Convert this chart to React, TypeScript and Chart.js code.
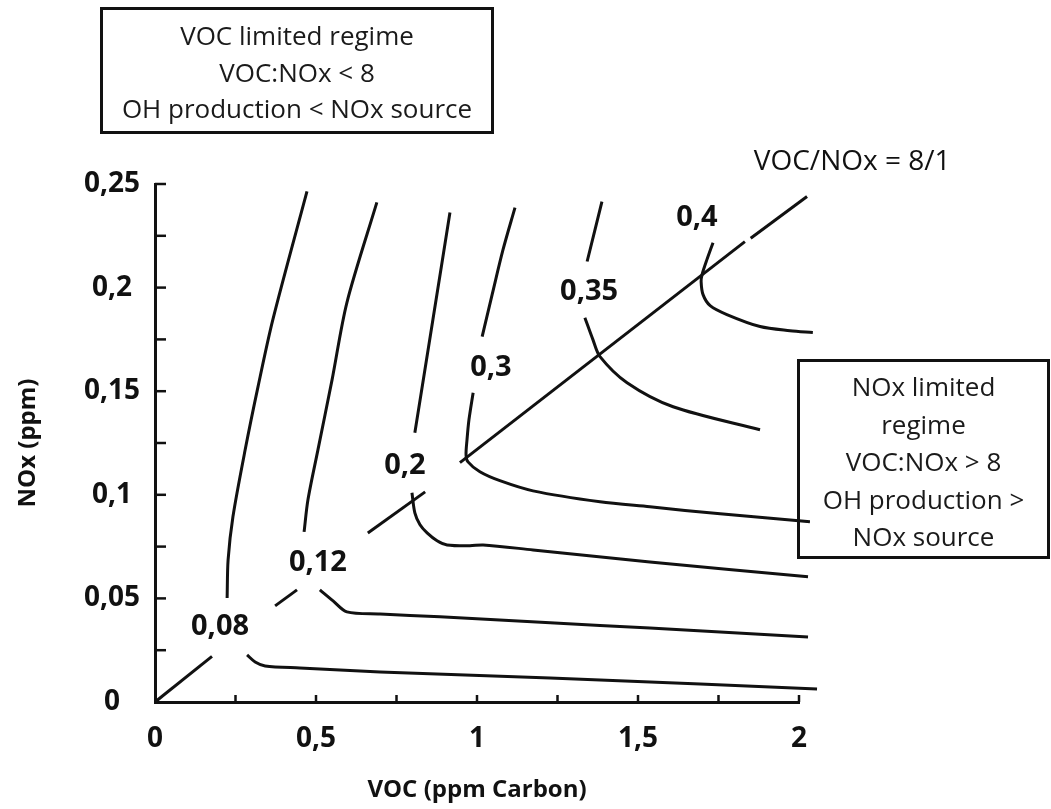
import React, { useEffect, useRef } from "react";
import { Chart, registerables } from "chart.js";

Chart.register(...registerables);

type P = [number, number];

// Axis tick labels
const xTickLabels = ["0", "0,5", "1", "1,5", "2"];
const yTickLabels = ["0", "0,05", "0,1", "0,15", "0,2", "0,25"];

// VOC/NOx = 8/1 line (drawn in pieces, gaps where labels sit)
const ratioSegA: P[] = [[0, 0], [0.177, 0.022]];
const ratioSegB: P[] = [[0.373, 0.0464], [0.441, 0.0541]];
const ratioSegC: P[] = [[0.661, 0.0816], [0.839, 0.1014]];
const ratioSegD: P[] = [[0.947, 0.1155], [1.832, 0.2222]];
const ratioSegE: P[] = [[1.85, 0.2238], [2.025, 0.244]];

// Ozone isopleths (ppm)
const c008Upper: P[] = [[0.472, 0.2464], [0.366, 0.1845], [0.32, 0.1522], [0.28, 0.1217], [0.242, 0.0894], [0.227, 0.0686], [0.224, 0.0502]];
const c008Lower: P[] = [[0.286, 0.0227], [0.311, 0.0193], [0.342, 0.0174], [0.45, 0.0164], [0.699, 0.0145], [1.227, 0.0116], [1.693, 0.0087], [2.056, 0.0063]];

const c012Upper: P[] = [[0.689, 0.2411], [0.596, 0.1928], [0.55, 0.1556], [0.506, 0.1217], [0.475, 0.0976], [0.463, 0.0821]];
const c012Lower: P[] = [[0.512, 0.0541], [0.553, 0.0488], [0.596, 0.0435], [0.699, 0.0425], [0.885, 0.0411], [1.227, 0.0382], [1.537, 0.0357], [2.028, 0.0314]];

const c02Upper: P[] = [[0.916, 0.2362], [0.863, 0.1845], [0.807, 0.13]];
const c02Lower: P[] = [[0.798, 0.101], [0.807, 0.0913], [0.823, 0.0855], [0.845, 0.0816], [0.876, 0.0778], [0.907, 0.0758], [0.978, 0.0754], [1.019, 0.0758], [1.174, 0.0734], [1.537, 0.0676], [2.028, 0.0604]];

const c03Upper: P[] = [[1.118, 0.2386], [1.081, 0.2184], [1.047, 0.1966], [1.016, 0.1763]];
const c03Lower: P[] = [[0.988, 0.1493], [0.975, 0.1362], [0.969, 0.1266], [0.966, 0.1193], [0.972, 0.1159], [1.009, 0.1111], [1.071, 0.1068], [1.174, 0.1019], [1.382, 0.0966], [1.537, 0.0942], [1.755, 0.0908], [2.034, 0.087]];

const c035Upper: P[] = [[1.388, 0.2415], [1.342, 0.2126]];
const c035Lower: P[] = [[1.335, 0.1855], [1.36, 0.1749], [1.382, 0.1667], [1.466, 0.1541], [1.609, 0.1425], [1.879, 0.1314]];

const c04: P[] = [[1.733, 0.2217], [1.714, 0.2135], [1.699, 0.2063], [1.696, 0.2029], [1.702, 0.1966], [1.724, 0.1913], [1.776, 0.187], [1.879, 0.1812], [1.972, 0.1792], [2.043, 0.1783]];

// Isopleth labels and their positions (data units)
const contourLabels = ["0,08", "0,12", "0,2", "0,3", "0,35", "0,4"];
const contourLabelX = [0.202, 0.506, 0.776, 1.043, 1.348, 1.683];
const contourLabelY = [0.0362, 0.0671, 0.114, 0.1614, 0.1981, 0.2338];

const ratioLabel = "VOC/NOx = 8/1";
const ratioLabelX = 2.165;
const ratioLabelY = 0.2604;

const vocBoxLines = ["VOC limited regime", "VOC:NOx < 8", "OH production < NOx source"];
const noxBoxLines = ["NOx limited", "regime", "VOC:NOx > 8", "OH production >", "NOx source"];

const straightSets = [ratioSegA, ratioSegB, ratioSegC, ratioSegD, ratioSegE];
const curveSets = [c008Upper, c008Lower, c012Upper, c012Lower, c02Upper, c02Lower, c03Upper, c03Lower, c035Upper, c035Lower, c04];

const FONT = '"Open Sans", "DejaVu Sans", sans-serif';
const INK = "#111";

const overlayPlugin = {
  id: "overlay",
  afterDatasetsDraw(chart: any) {
    const { ctx } = chart;
    const x = chart.scales.x;
    const y = chart.scales.y;
    ctx.save();
    ctx.strokeStyle = INK;
    ctx.lineCap = "butt";
    // inward ticks
    ctx.lineWidth = 2.5;
    x.ticks.forEach((t: any) => {
      if (t.value <= 0.0001) return;
      const px = x.getPixelForValue(t.value);
      ctx.beginPath();
      ctx.moveTo(px, y.bottom);
      ctx.lineTo(px, y.bottom - 7);
      ctx.stroke();
    });
    y.ticks.forEach((t: any) => {
      if (t.value <= 0.0001) return;
      const py = y.getPixelForValue(t.value);
      ctx.beginPath();
      ctx.moveTo(x.left, py);
      ctx.lineTo(x.left + 11, py);
      ctx.stroke();
    });
    // labels
    ctx.fillStyle = INK;
    ctx.textAlign = "center";
    ctx.textBaseline = "middle";
    ctx.font = `bold 29px ${FONT}`;
    contourLabels.forEach((s, i) => {
      ctx.fillText(s, x.getPixelForValue(contourLabelX[i]), y.getPixelForValue(contourLabelY[i]));
    });
    ctx.font = `28px ${FONT}`;
    ctx.fillText(ratioLabel, x.getPixelForValue(ratioLabelX), y.getPixelForValue(ratioLabelY));
    ctx.restore();
  },
};

function isMultiple(v: number, step: number) {
  const k = v / step;
  return Math.abs(k - Math.round(k)) < 1e-6;
}

export default function App() {
  const ref = useRef<HTMLCanvasElement | null>(null);

  useEffect(() => {
    if (!ref.current) return;
    const datasets: any[] = [];
    straightSets.forEach((pts) =>
      datasets.push({
        data: pts.map(([a, b]) => ({ x: a, y: b })),
        showLine: true,
        pointRadius: 0,
        borderColor: INK,
        borderWidth: 3,
        tension: 0,
        clip: false,
        fill: false,
      })
    );
    curveSets.forEach((pts) =>
      datasets.push({
        data: pts.map(([a, b]) => ({ x: a, y: b })),
        showLine: true,
        pointRadius: 0,
        borderColor: INK,
        borderWidth: 3,
        tension: 0.3,
        clip: false,
        fill: false,
      })
    );

    const chart = new Chart(ref.current, {
      type: "scatter",
      data: { datasets },
      plugins: [overlayPlugin],
      options: {
        responsive: false,
        animation: false,
        devicePixelRatio: 1,
        layout: { padding: { left: 0, right: 252, top: 184, bottom: 0 } },
        plugins: { legend: { display: false }, tooltip: { enabled: false } },
        scales: {
          x: {
            type: "linear",
            min: 0,
            max: 2,
            afterFit: (s: any) => {
              s.height = 107;
            },
            grid: { display: true, drawOnChartArea: false, drawTicks: false },
            border: { display: true, color: INK, width: 3 },
            ticks: {
              stepSize: 0.25,
              autoSkip: false,
              maxRotation: 0,
              padding: 20,
              color: INK,
              font: { family: FONT, size: 28, weight: "bold" },
              callback: (v: any) => (isMultiple(Number(v), 0.5) ? xTickLabels[Math.round(Number(v) / 0.5)] : ""),
            },
            title: {
              display: true,
              text: "VOC (ppm Carbon)",
              color: INK,
              font: { family: FONT, size: 24, weight: "bold" },
              padding: { top: 0, bottom: 4 },
            },
          },
          y: {
            type: "linear",
            min: 0,
            max: 0.25,
            afterFit: (s: any) => {
              s.width = 155;
            },
            grid: { display: true, drawOnChartArea: false, drawTicks: false },
            border: { display: true, color: INK, width: 3 },
            ticks: {
              stepSize: 0.025,
              autoSkip: false,
              padding: 15,
              crossAlign: "center",
              color: INK,
              font: { family: FONT, size: 28, weight: "bold" },
              callback: (v: any) => (isMultiple(Number(v), 0.05) ? yTickLabels[Math.round(Number(v) / 0.05)] : ""),
            },
            title: {
              display: true,
              text: "NOx (ppm)",
              color: INK,
              font: { family: FONT, size: 24, weight: "bold" },
              padding: { top: 14, bottom: 0 },
            },
          },
        },
      },
    });
    return () => chart.destroy();
  }, []);

  const boxText: React.CSSProperties = {
    fontFamily: FONT,
    fontSize: 26,
    color: "#1a1a1a",
    textAlign: "center",
    whiteSpace: "nowrap",
  };

  return (
    <div style={{ position: "fixed", left: 0, top: 0, width: 1051, height: 809, background: "#fff", overflow: "hidden" }}>
      <canvas ref={ref} width={1051} height={809} style={{ position: "absolute", left: 0, top: 0 }} />
      <div
        style={{
          position: "absolute",
          left: 100,
          top: 7,
          width: 394,
          height: 127,
          boxSizing: "border-box",
          border: "3px solid #111",
          paddingTop: 7,
          lineHeight: "36.5px",
          ...boxText,
        }}
      >
        {vocBoxLines.map((l) => (
          <div key={l}>{l}</div>
        ))}
      </div>
      <div
        style={{
          position: "absolute",
          left: 797,
          top: 359,
          width: 253,
          height: 200,
          boxSizing: "border-box",
          border: "3px solid #111",
          paddingTop: 6,
          lineHeight: "37.5px",
          ...boxText,
        }}
      >
        {noxBoxLines.map((l) => (
          <div key={l}>{l}</div>
        ))}
      </div>
    </div>
  );
}
